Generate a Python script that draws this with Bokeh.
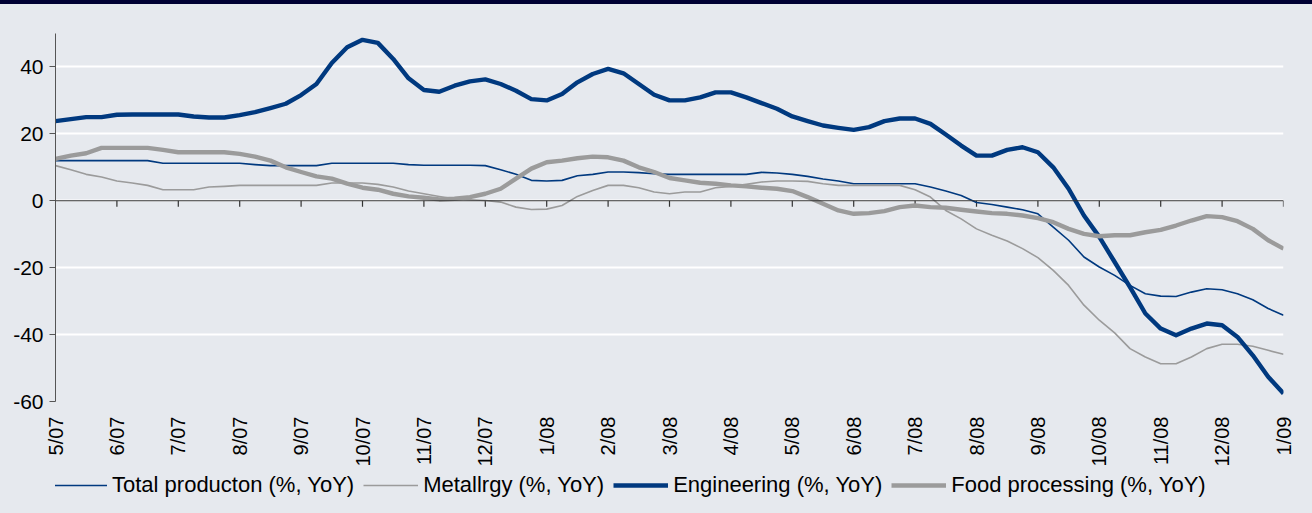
import math
from bokeh.plotting import figure
from bokeh.layouts import column
from bokeh.models import (Range1d, FixedTicker, Span, Legend, LegendItem,
                          GlobalInlineStyleSheet, ColumnDataSource)
from bokeh.embed import file_html
from bokeh.resources import INLINE

# ---- data -------------------------------------------------------------
month_labels = ["5/07", "6/07", "7/07", "8/07", "9/07", "10/07", "11/07", "12/07",
                "1/08", "2/08", "3/08", "4/08", "5/08", "6/08", "7/08", "8/08",
                "9/08", "10/08", "11/08", "12/08", "1/09"]

# sample positions, in months after 5/07 (quarter-month steps)
x_pos = [0.0, 0.25, 0.5, 0.75, 1.0, 1.25, 1.5, 1.75, 2.0, 2.25, 2.5, 2.75,
         3.0, 3.25, 3.5, 3.75, 4.0, 4.25, 4.5, 4.75, 5.0, 5.25, 5.5, 5.75,
         6.0, 6.25, 6.5, 6.75, 7.0, 7.25, 7.5, 7.75, 8.0, 8.25, 8.5, 8.75,
         9.0, 9.25, 9.5, 9.75, 10.0, 10.25, 10.5, 10.75, 11.0, 11.25, 11.5, 11.75,
         12.0, 12.25, 12.5, 12.75, 13.0, 13.25, 13.5, 13.75, 14.0, 14.25, 14.5, 14.75,
         15.0, 15.25, 15.5, 15.75, 16.0, 16.25, 16.5, 16.75, 17.0, 17.25, 17.5, 17.75,
         18.0, 18.25, 18.5, 18.75, 19.0, 19.25, 19.5, 19.75, 20.0]

total_production = [12.0, 12.0, 12.0, 12.0, 12.0, 12.0, 12.0, 11.2, 11.2, 11.2, 11.2, 11.2,
                    11.2, 10.8, 10.5, 10.5, 10.5, 10.5, 11.2, 11.2, 11.2, 11.2, 11.2, 10.8,
                    10.6, 10.6, 10.6, 10.6, 10.5, 9.3, 7.9, 6.1, 5.9, 6.1, 7.5, 7.9,
                    8.6, 8.6, 8.4, 8.1, 7.9, 7.9, 7.9, 7.9, 7.9, 7.9, 8.5, 8.3,
                    7.9, 7.3, 6.5, 5.9, 5.1, 5.1, 5.1, 5.1, 5.1, 4.1, 2.9, 1.6,
                    -0.5, -1.1, -1.9, -2.7, -3.9, -7.9, -11.8, -16.8, -19.8, -22.3, -25.3, -27.8,
                    -28.5, -28.6, -27.3, -26.3, -26.6, -27.8, -29.6, -32.2, -34.2]

metallurgy = [10.5, 9.3, 7.9, 7.1, 5.9, 5.3, 4.6, 3.3, 3.3, 3.3, 4.1, 4.3,
              4.6, 4.6, 4.6, 4.6, 4.6, 4.6, 5.3, 5.3, 5.3, 4.9, 4.1, 2.9,
              2.1, 1.3, 0.6, 0.3, 0.1, -0.4, -1.9, -2.6, -2.5, -1.4, 1.3, 3.1,
              4.6, 4.6, 3.9, 2.6, 2.1, 2.6, 2.6, 3.9, 4.3, 4.9, 5.6, 5.9,
              5.9, 5.8, 5.1, 4.6, 4.6, 4.6, 4.6, 4.6, 3.3, 1.1, -2.9, -5.4,
              -8.4, -10.3, -12.0, -14.3, -17.0, -20.8, -25.3, -31.2, -35.7, -39.5, -44.2, -46.7,
              -48.7, -48.7, -46.7, -44.2, -42.9, -42.9, -43.5, -44.7, -45.9]

engineering = [23.8, 24.4, 25.0, 25.0, 25.7, 25.8, 25.8, 25.8, 25.8, 25.2, 24.9, 24.9,
               25.6, 26.5, 27.7, 29.0, 31.6, 34.9, 41.2, 45.9, 48.1, 47.2, 42.4, 36.6,
               33.1, 32.6, 34.4, 35.7, 36.3, 34.9, 32.9, 30.4, 30.0, 31.9, 35.4, 37.9,
               39.4, 38.1, 34.9, 31.7, 30.0, 30.0, 30.9, 32.4, 32.4, 30.9, 29.2, 27.5,
               25.2, 23.8, 22.5, 21.8, 21.2, 22.0, 23.8, 24.6, 24.6, 23.0, 19.8, 16.5,
               13.5, 13.5, 15.2, 16.0, 14.5, 10.0, 3.6, -4.4, -10.8, -18.3, -25.8, -33.7,
               -38.2, -40.2, -38.2, -36.7, -37.2, -40.7, -46.2, -52.6, -57.6]

food_processing = [12.5, 13.5, 14.2, 15.8, 15.8, 15.8, 15.8, 15.2, 14.5, 14.5, 14.5, 14.5,
                   14.0, 13.2, 12.0, 10.0, 8.6, 7.3, 6.6, 5.1, 3.9, 3.3, 2.1, 1.3,
                   0.9, 0.4, 0.6, 1.1, 2.1, 3.6, 6.6, 9.6, 11.5, 12.0, 12.7, 13.2,
                   13.0, 12.0, 10.0, 8.6, 6.8, 6.1, 5.4, 5.1, 4.6, 4.3, 3.9, 3.6,
                   2.9, 1.1, -0.9, -2.9, -3.9, -3.7, -3.1, -1.9, -1.4, -1.9, -2.1, -2.7,
                   -3.2, -3.7, -3.9, -4.4, -5.2, -6.4, -8.4, -9.9, -10.6, -10.3, -10.3, -9.4,
                   -8.7, -7.4, -5.9, -4.6, -4.9, -6.1, -8.4, -11.8, -14.3]

series_names = ["Total producton (%, YoY)", "Metallrgy (%, YoY)",
                "Engineering (%, YoY)", "Food processing (%, YoY)"]
y_ticks = [-60, -40, -20, 0, 20, 40]
y_tick_labels = ["-60", "-40", "-20", "0", "20", "40"]

# ---- styling ----------------------------------------------------------
BG = "#E6E9EE"
NAVY = "#00397F"
GREY = "#9B9B9B"
FONT = "Liberation Sans"
styles = [(NAVY, 1.6), (GREY, 1.6), (NAVY, 4.4), (GREY, 4.4)]
cols = ["tp", "me", "en", "fp"]

page_css = GlobalInlineStyleSheet(css=(
    "html{background:%s;border-top:4px solid #000033;}"
    "body{background:%s;}" % (BG, BG)))

p = figure(output_backend="svg", toolbar_location=None,
           frame_width=1228, frame_height=368,
           min_border_left=55, min_border_right=21, min_border_top=29,
           min_border_bottom=72,
           x_range=Range1d(0, 20), y_range=Range1d(-60, 50),
           background_fill_color=BG, border_fill_color=BG,
           outline_line_color=None)
p.stylesheets = [page_css]

# y axis
yax = p.yaxis[0]
yax.ticker = FixedTicker(ticks=y_ticks)
yax.major_label_overrides = {t: lab for t, lab in zip(y_ticks, y_tick_labels)}
yax.axis_line_color = "#555555"
yax.axis_line_width = 1
yax.major_tick_line_color = "#555555"
yax.major_tick_out = 6
yax.major_tick_in = 0
yax.minor_tick_line_color = None
yax.major_label_standoff = 6
yax.major_label_text_font = FONT
yax.major_label_text_font_size = "21px"
yax.major_label_text_color = "#000000"

# x axis (labels only)
months = list(range(len(month_labels)))
xax = p.xaxis[0]
xax.ticker = FixedTicker(ticks=months)
xax.major_label_overrides = {m: lab for m, lab in zip(months, month_labels)}
xax.major_label_orientation = math.pi / 2
xax.axis_line_color = None
xax.major_tick_line_color = None
xax.minor_tick_line_color = None
xax.major_tick_out = 0
xax.major_tick_in = 0
xax.major_label_standoff = 15
xax.major_label_text_font = FONT
xax.major_label_text_font_size = "20px"
xax.major_label_text_color = "#000000"

p.xgrid.grid_line_color = None
p.ygrid.ticker = FixedTicker(ticks=y_ticks)
p.ygrid.grid_line_color = "#FFFFFF"
p.ygrid.grid_line_width = 2

# zero line with downward month ticks
p.add_layout(Span(location=0, dimension="width", line_color="#333333", line_width=1.2))
tick_len = 6 * 110 / 368
p.segment(x0=months[1:], y0=[0] * (len(months) - 1), x1=months[1:],
          y1=[-tick_len] * (len(months) - 1), line_color="#333333", line_width=1.2)

src = ColumnDataSource(dict(x=x_pos, tp=total_production, me=metallurgy,
                            en=engineering, fp=food_processing))
for col, (c, w) in zip(cols, styles):
    p.line("x", col, source=src, line_color=c, line_width=w, line_join="round")

# ---- legend strip below the chart -----------------------------------
# same series, drawn into a view range that excludes them: only the legend shows
pl = figure(output_backend="svg", toolbar_location=None,
            width=1304, height=36, min_border=0,
            x_axis_type=None, y_axis_type=None,
            x_range=Range1d(0, 20), y_range=Range1d(100, 110),
            background_fill_color=BG, border_fill_color=BG,
            outline_line_color=None)
pl.grid.visible = False
items = []
for name, col, (c, w) in zip(series_names, cols, styles):
    r = pl.line("x", col, source=src, line_color=c, line_width=w)
    items.append(LegendItem(label=name, renderers=[r]))

legend = Legend(items=items, orientation="horizontal", location=(-3, 11),
                glyph_width=55, glyph_height=24, label_standoff=5, spacing=9,
                padding=0, margin=0,
                border_line_color=None, background_fill_alpha=0,
                label_text_font=FONT, label_text_font_size="22px",
                label_text_color="#000000", label_height=24)
pl.add_layout(legend, "center")

layout = column(p, pl, spacing=0)
open("out.html", "w").write(file_html(layout, INLINE))
